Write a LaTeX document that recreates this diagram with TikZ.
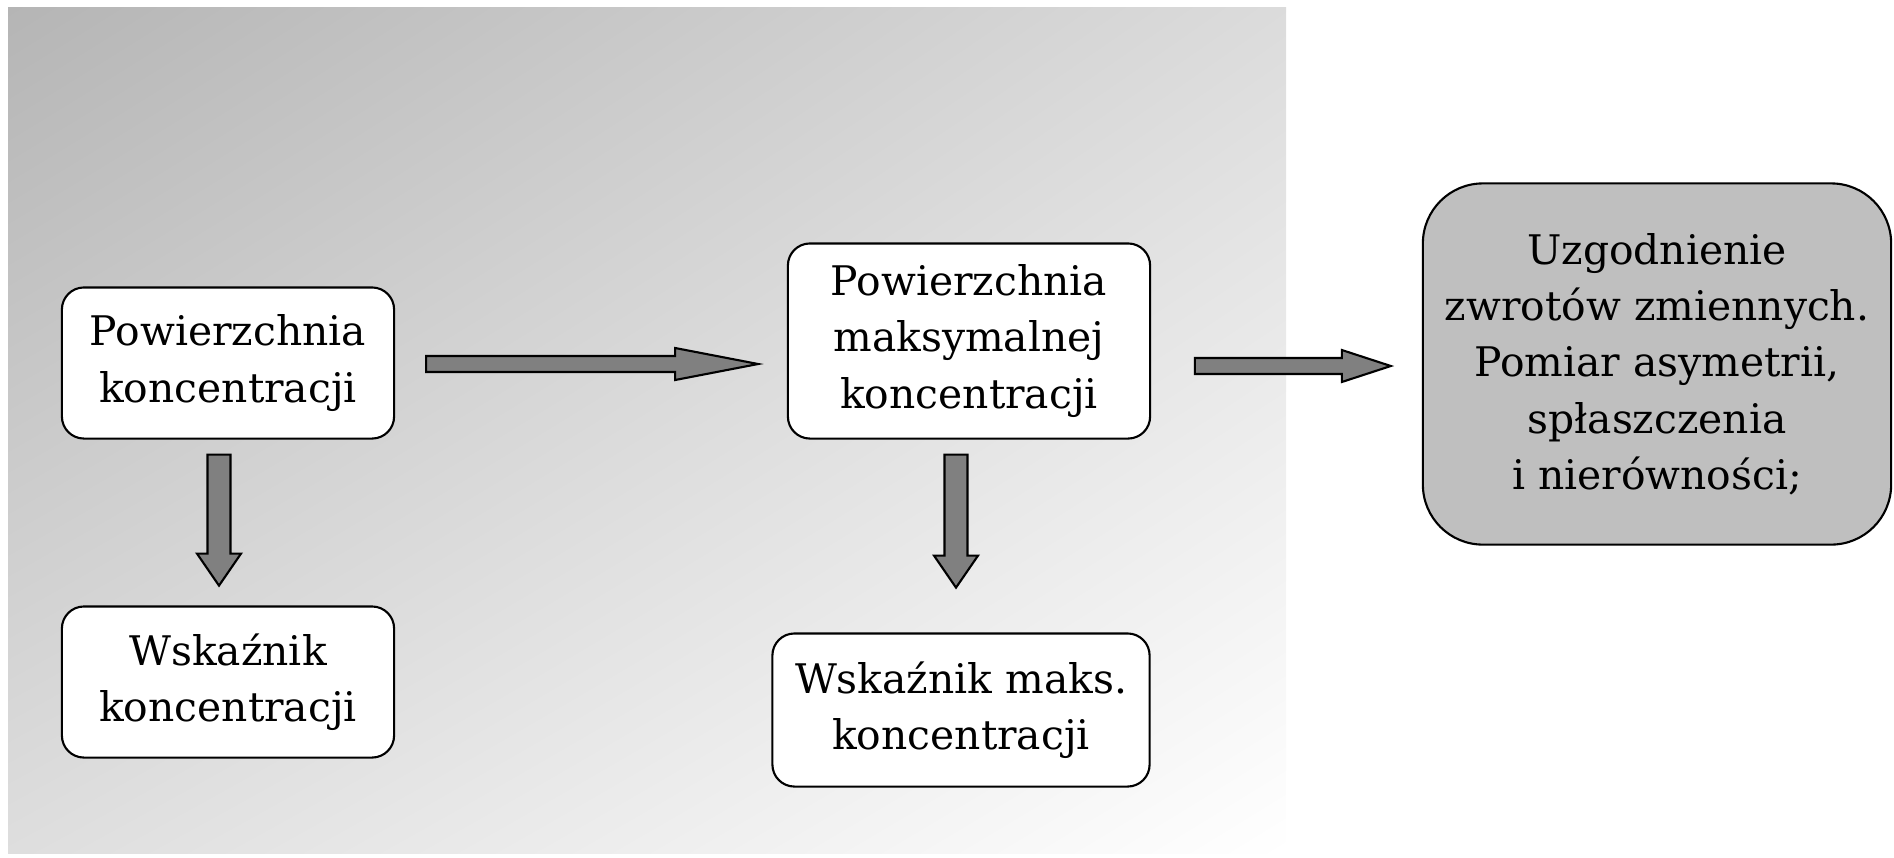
\documentclass[tikz,border=0pt]{standalone}
\usepackage{fontspec}
\setmainfont{DejaVu Serif}
\usetikzlibrary{calc,shadings}
\begin{document}
\begin{tikzpicture}[x=0.01cm,y=-0.01cm,font=\fontsize{11.6}{16}\selectfont,
    box/.style={draw,line width=0.6pt,fill=white,rounded corners=0.22cm,align=center,inner sep=0pt},
    barrow/.style={draw,line width=0.6pt,fill=black!50,line join=miter}]
    \useasboundingbox (0,0) rectangle (1894,857);
    \shade[upper left=black!29,upper right=black!14,lower left=black!13,lower right=white] (8,7) rectangle (1286,853);
    \node[box,minimum width=3.32cm,minimum height=1.51cm] (pow) at (228,363) {Powierzchnia\\koncentracji};
    \node[box,minimum width=3.32cm,minimum height=1.51cm] (wsk) at (228,682) {Wskaźnik\\koncentracji};
    \node[box,minimum width=3.62cm,minimum height=1.95cm] (powmax) at (969,341) {Powierzchnia\\maksymalnej\\koncentracji};
    \node[box,minimum width=3.77cm,minimum height=1.53cm] (wskmax) at (961,710) {Wskaźnik maks.\\koncentracji};
    \node[box,fill=black!25,rounded corners=0.6cm,minimum width=4.68cm,minimum height=3.61cm] (uzg) at (1657,364)
        {Uzgodnienie\\zwrotów zmiennych.\\Pomiar asymetrii,\\spłaszczenia\\i nierówności;};
    \draw[barrow] ($(pow.east)+(31,1)$) ++(0,-8) -- ++(249,0) -- ++(0,-8) -- ++(83,16) %
        -- ++(-83,16) -- ++(0,-8) -- ++(-249,0) -- cycle;
    \draw[barrow] ($(uzg.west)+(-227,2)$) ++(0,-8) -- ++(147,0) -- ++(0,-8) -- ++(49,16) %
        -- ++(-49,16) -- ++(0,-8) -- ++(-147,0) -- cycle;
    \draw[barrow] ($(pow.south)+(-9,15)$) ++(-11.5,0) -- ++(0,99) -- ++(-10.5,0) -- ++(22,32) %
        -- ++(22,-32) -- ++(-10.5,0) -- ++(0,-99) -- cycle;
    \draw[barrow] ($(powmax.south)+(-13,15)$) ++(-11.5,0) -- ++(0,101) -- ++(-10.5,0) -- ++(22,32) %
        -- ++(22,-32) -- ++(-10.5,0) -- ++(0,-101) -- cycle;
\end{tikzpicture}
\end{document}
